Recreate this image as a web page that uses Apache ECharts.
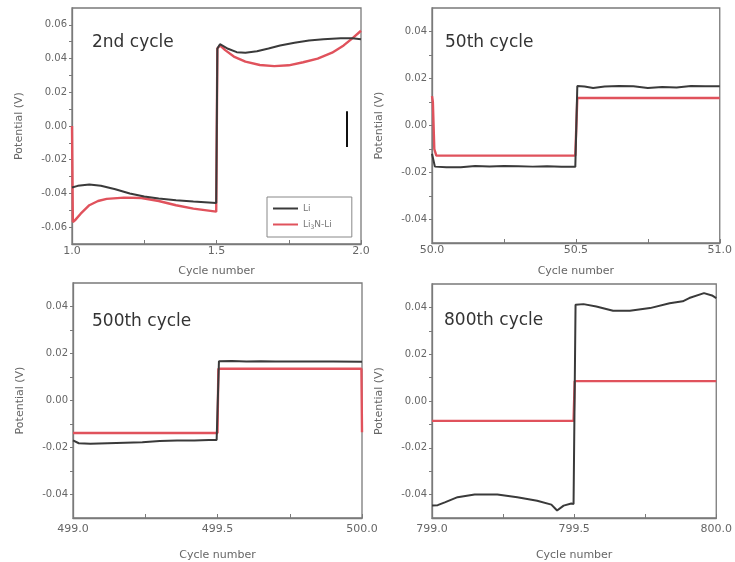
<!DOCTYPE html>
<html>
<head>
<meta charset="utf-8">
<script src="https://cdn.jsdelivr.net/npm/echarts@6/dist/echarts.min.js"></script>
<style>html,body{margin:0;padding:0;background:#fff}#c{width:735px;height:562px}</style>
</head>
<body>
<div id="c"></div>
<script>
// ---- data ----
const panelTitles = ['2nd cycle', '50th cycle', '500th cycle', '800th cycle'];
const seriesNames = ['Li', 'Li3N-Li'];

const xLabels1 = [1.0, 1.5, 2.0];
const xTicks1 = [1.0, 1.25, 1.5, 1.75, 2.0];
const xLabels2 = [50.0, 50.5, 51.0];
const xTicks2 = [50.0, 50.25, 50.5, 50.75, 51.0];
const xLabels3 = [499.0, 499.5, 500.0];
const xTicks3 = [499.0, 499.25, 499.5, 499.75, 500.0];
const xLabels4 = [799.0, 799.5, 800.0];
const xTicks4 = [799.0, 799.25, 799.5, 799.75, 800.0];

const yLabels1 = [-0.06, -0.04, -0.02, 0, 0.02, 0.04, 0.06];
const yTicks1 = [-0.06, -0.05, -0.04, -0.03, -0.02, -0.01, 0, 0.01, 0.02, 0.03, 0.04, 0.05, 0.06];
const yLabels = [-0.04, -0.02, 0, 0.02, 0.04];
const yTicks = [-0.04, -0.03, -0.02, -0.01, 0, 0.01, 0.02, 0.03, 0.04];

// 2nd cycle
const li_2 = [[1.0,-0.0365],[1.02,-0.0355],[1.06,-0.0347],[1.10,-0.0355],[1.15,-0.0375],[1.20,-0.0400],[1.25,-0.0418],[1.30,-0.0430],[1.36,-0.0440],[1.42,-0.0448],[1.499,-0.0457],[1.503,0.046],[1.512,0.0485],[1.54,0.0458],[1.57,0.0438],[1.60,0.0435],[1.64,0.0443],[1.68,0.0460],[1.72,0.0478],[1.77,0.0494],[1.82,0.0507],[1.87,0.0515],[1.93,0.0520],[1.97,0.0520],[2.0,0.0515]];
const li3n_2 = [[1.0,0.0],[1.003,-0.057],[1.01,-0.056],[1.03,-0.052],[1.06,-0.047],[1.09,-0.0445],[1.12,-0.0432],[1.18,-0.0425],[1.24,-0.0427],[1.30,-0.0445],[1.36,-0.0470],[1.42,-0.0490],[1.499,-0.0508],[1.503,0.046],[1.512,0.0478],[1.53,0.0450],[1.56,0.0412],[1.60,0.0382],[1.65,0.0362],[1.70,0.0355],[1.75,0.0360],[1.80,0.0378],[1.85,0.0400],[1.90,0.0435],[1.94,0.0478],[1.97,0.0520],[2.0,0.0565]];
const scaleBar = [[1.951, 0.0088], [1.951, -0.0124]];

// 50th cycle
const li_50 = [[50.0,-0.012],[50.01,-0.0175],[50.05,-0.0178],[50.1,-0.0178],[50.15,-0.0172],[50.2,-0.0174],[50.25,-0.0172],[50.3,-0.0173],[50.35,-0.0175],[50.4,-0.0173],[50.45,-0.0176],[50.498,-0.0176],[50.505,0.0168],[50.53,0.0166],[50.56,0.0160],[50.6,0.0166],[50.65,0.0168],[50.7,0.0167],[50.75,0.0160],[50.8,0.0164],[50.85,0.0162],[50.9,0.0168],[50.95,0.0167],[51.0,0.0167]];
const li3n_50 = [[50.0,0.0125],[50.003,0.010],[50.008,-0.010],[50.015,-0.0128],[50.2,-0.0128],[50.4,-0.0128],[50.498,-0.0128],[50.505,0.0117],[50.7,0.0117],[51.0,0.0117]];

// 500th cycle
const li_500 = [[499.0,-0.0170],[499.02,-0.0182],[499.06,-0.0184],[499.12,-0.0182],[499.18,-0.0180],[499.24,-0.0178],[499.3,-0.0172],[499.36,-0.0170],[499.42,-0.0170],[499.47,-0.0168],[499.497,-0.0168],[499.505,0.0167],[499.55,0.0168],[499.6,0.0166],[499.65,0.0167],[499.7,0.0166],[499.8,0.0166],[499.9,0.0166],[500.0,0.0165]];
const li3n_500 = [[499.0,-0.0138],[499.5,-0.0138],[499.503,0.0135],[499.998,0.0135],[500.0,-0.0135]];

// 800th cycle
const li_800 = [[799.0,-0.0447],[799.02,-0.0445],[799.045,-0.0433],[799.09,-0.0411],[799.15,-0.0400],[799.23,-0.0400],[799.30,-0.0411],[799.37,-0.0426],[799.42,-0.0443],[799.44,-0.0468],[799.463,-0.0447],[799.49,-0.0438],[799.498,-0.0440],[799.505,0.0411],[799.533,0.0414],[799.578,0.0404],[799.637,0.0386],[799.696,0.0386],[799.767,0.0397],[799.836,0.0418],[799.882,0.0426],[799.905,0.0440],[799.957,0.0461],[799.985,0.0451],[800.0,0.0440]];
const li3n_800 = [[799.0,-0.0085],[799.498,-0.0085],[799.502,0.0085],[800.0,0.0085]];

// ---- chart ----
const FONT = 'DejaVu Sans';
const BLACK = '#3a3a3a', RED = '#e0525c', AX = '#7a7a7a', TXT = '#666';

const grids = [
  {left: 72, top: 8, width: 289, height: 236},
  {left: 432, top: 8, width: 288, height: 235},
  {left: 73, top: 283, width: 289, height: 235},
  {left: 432, top: 284, width: 287, height: 234}
];
const xCfg = [
  {min: 1, max: 2, labels: xLabels1, ticks: xTicks1, margin: 2, gap: 22},
  {min: 50, max: 51, labels: xLabels2, ticks: xTicks2, margin: 2, gap: 23},
  {min: 499, max: 500, labels: xLabels3, ticks: xTicks3, margin: 6, gap: 32},
  {min: 799, max: 800, labels: xLabels4, ticks: xTicks4, margin: 6, gap: 32}
];
const yCfg = [
  {min: -0.07, max: 0.07, labels: yLabels1, ticks: yTicks1},
  {min: -0.05, max: 0.05, labels: yLabels, ticks: yTicks},
  {min: -0.05, max: 0.05, labels: yLabels, ticks: yTicks},
  {min: -0.05, max: 0.05, labels: yLabels, ticks: yTicks}
];
const liData = [li_2, li_50, li_500, li_800];
const li3nData = [li3n_2, li3n_50, li3n_500, li3n_800];
const titlePos = [[92, 34], [445, 34], [92, 313], [444, 312]];

const option = {
  animation: false,
  backgroundColor: '#fff',
  title: panelTitles.map((t, i) => ({
    text: t, left: titlePos[i][0], top: titlePos[i][1], padding: 0,
    textStyle: {fontFamily: FONT, fontSize: 17, fontWeight: 'normal', color: '#333'}
  })),
  legend: {
    data: seriesNames,
    left: 267, top: 197, orient: 'vertical',
    icon: 'rect', itemWidth: 25, itemHeight: 2, itemGap: 7,
    padding: [7, 20, 7, 6],
    borderColor: '#888', borderWidth: 1,
    formatter: n => n === 'Li3N-Li' ? '{n|Li}{s|3}{n|N-Li}' : '{n|Li}',
    textStyle: {
      fontFamily: FONT, color: '#777',
      rich: {
        n: {fontFamily: FONT, fontSize: 9, color: '#777'},
        s: {fontFamily: FONT, fontSize: 6, color: '#777', verticalAlign: 'bottom', padding: [5, 0, 0, 0]}
      }
    }
  },
  grid: grids.map(g => Object.assign({show: true, borderColor: AX, borderWidth: 1.3, backgroundColor: '#fff'}, g)),
  xAxis: xCfg.map((c, i) => ({
    type: 'value', gridIndex: i, min: c.min, max: c.max,
    name: 'Cycle number', nameLocation: 'middle', nameGap: c.gap,
    nameTextStyle: {fontFamily: FONT, fontSize: 11, color: TXT},
    axisLine: {show: true, onZero: false, lineStyle: {color: AX, width: 1.3}},
    axisTick: {show: true, inside: true, length: 4, customValues: c.ticks, lineStyle: {color: AX}},
    axisLabel: {customValues: c.labels, margin: c.margin, fontFamily: FONT, fontSize: 11, color: TXT,
      formatter: v => Number(v).toFixed(1)},
    splitLine: {show: false}
  })),
  yAxis: yCfg.map((c, i) => ({
    type: 'value', gridIndex: i, min: c.min, max: c.max,
    name: 'Potential (V)', nameLocation: 'middle', nameGap: 47, nameRotate: 90,
    nameTextStyle: {fontFamily: FONT, fontSize: 11, color: TXT},
    axisLine: {show: true, onZero: false, lineStyle: {color: AX, width: 1.3}},
    axisTick: {show: true, inside: false, length: 3, customValues: c.ticks, lineStyle: {color: AX}},
    axisLabel: {customValues: c.labels, margin: 5, fontFamily: FONT, fontSize: 10, color: TXT,
      formatter: v => Number(v).toFixed(2)},
    splitLine: {show: false}
  })),
  series: []
};

for (let i = 0; i < 4; i++) {
  option.series.push({
    name: 'Li3N-Li', type: 'line', xAxisIndex: i, yAxisIndex: i,
    data: li3nData[i], showSymbol: false, symbol: 'none', smooth: false,
    lineStyle: {color: RED, width: 2.4}, itemStyle: {color: RED}, z: 2
  });
  const s = {
    name: 'Li', type: 'line', xAxisIndex: i, yAxisIndex: i,
    data: liData[i], showSymbol: false, symbol: 'none', smooth: false,
    lineStyle: {color: BLACK, width: 2}, itemStyle: {color: BLACK}, z: 3
  };
  if (i === 0) {
    s.markLine = {
      silent: true, symbol: 'none', label: {show: false},
      lineStyle: {color: '#111', width: 2, type: 'solid'},
      data: [[{coord: scaleBar[0]}, {coord: scaleBar[1]}]]
    };
  }
  option.series.push(s);
}

const chart = echarts.init(document.getElementById('c'), null, {renderer: 'canvas'});
chart.setOption(option);
</script>
</body>
</html>
